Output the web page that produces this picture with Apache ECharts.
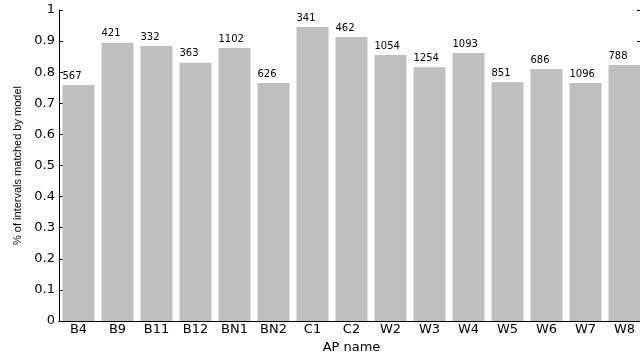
<!DOCTYPE html>
<html>
<head>
<meta charset="utf-8">
<script src="https://cdn.jsdelivr.net/npm/echarts@6/dist/echarts.min.js"></script>
<style>
  html, body { margin: 0; padding: 0; background: #fff; }
  #chart { width: 640px; height: 352px; }
</style>
</head>
<body>
<div id="chart"></div>
<script>
// AP 名称
var apNames = ['B4', 'B9', 'B11', 'B12', 'BN1', 'BN2', 'C1', 'C2', 'W2', 'W3', 'W4', 'W5', 'W6', 'W7', 'W8'];
// 匹配比例
var matched = [0.759, 0.895, 0.884, 0.830, 0.878, 0.765, 0.945, 0.913, 0.855, 0.816, 0.862, 0.768, 0.810, 0.765, 0.823];
// 柱顶数字
var counts = [567, 421, 332, 363, 1102, 626, 341, 462, 1054, 1254, 1093, 851, 686, 1096, 788];

var font = 'DejaVu Sans, Arial, sans-serif';
var nameFont = 'Liberation Sans, Arial, sans-serif';

var myChart = echarts.init(document.getElementById('chart'));
var option = {
    animation: false,
    textStyle: { fontFamily: font },
    grid: { left: 59, top: 10, right: -4, bottom: 31, outerBoundsMode: 'none' },
    xAxis: [
        {
            type: 'category',
            data: apNames,
            name: 'AP name',
            nameLocation: 'middle',
            nameGap: 16,
            nameTextStyle: { color: '#000', fontSize: 13, fontFamily: font },
            axisLine: { lineStyle: { color: '#000', width: 1 } },
            axisTick: { alignWithLabel: true, inside: true, length: 3, lineStyle: { color: '#000' } },
            axisLabel: { color: '#000', fontSize: 13, margin: 2, fontFamily: font }
        },
        {
            type: 'category',
            data: apNames,
            position: 'top',
            axisLine: { lineStyle: { color: '#000', width: 1 } },
            axisTick: { alignWithLabel: true, inside: true, length: 3, lineStyle: { color: '#000' } },
            axisLabel: { show: false }
        }
    ],
    yAxis: [
        {
            type: 'value',
            min: 0,
            max: 1,
            interval: 0.1,
            name: '% of intervals matched by model',
            nameLocation: 'middle',
            nameGap: 36,
            nameTextStyle: { color: '#000', fontSize: 11, fontFamily: nameFont },
            splitLine: { show: false },
            axisLine: { show: true, lineStyle: { color: '#000', width: 1 } },
            axisTick: { show: true, inside: true, length: 4, lineStyle: { color: '#000' } },
            axisLabel: { color: '#000', fontSize: 13, margin: 4, fontFamily: font }
        },
        {
            type: 'value',
            min: 0,
            max: 1,
            interval: 0.1,
            position: 'right',
            splitLine: { show: false },
            axisLine: { show: true, lineStyle: { color: '#000', width: 1 } },
            axisTick: { show: true, inside: true, length: 7, lineStyle: { color: '#000' } },
            axisLabel: { show: false }
        }
    ],
    series: [
        {
            type: 'bar',
            data: matched,
            barWidth: 32,
            itemStyle: { color: '#bfbfbf' },
            label: {
                show: true,
                position: [0, -4],
                align: 'left',
                verticalAlign: 'bottom',
                color: '#000',
                fontSize: 10,
                fontFamily: font,
                formatter: function (p) { return counts[p.dataIndex]; }
            }
        }
    ]
};
myChart.setOption(option);
</script>
</body>
</html>
